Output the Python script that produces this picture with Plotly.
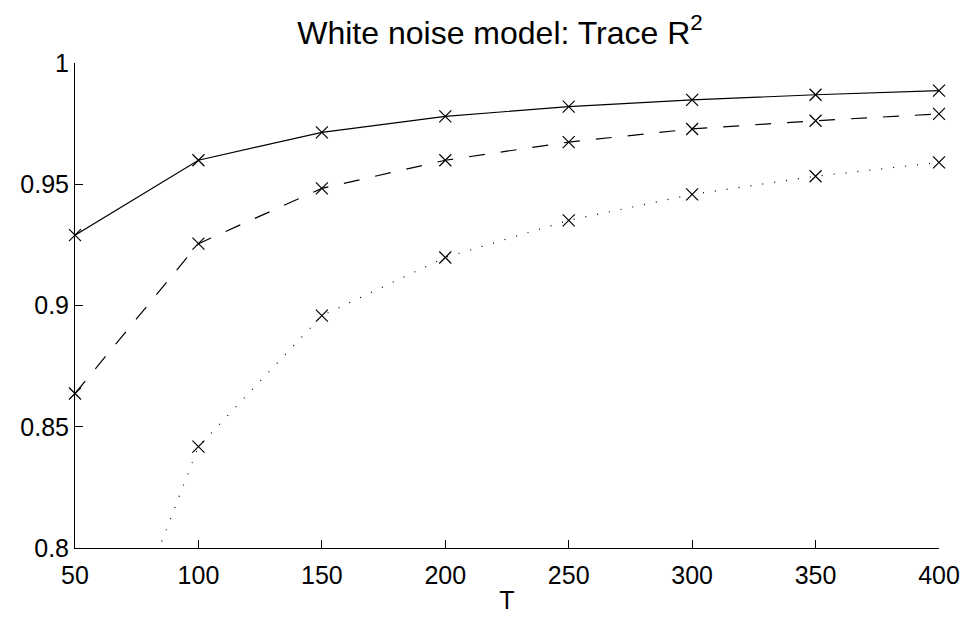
import plotly.graph_objects as go

T = [50, 100, 150, 200, 250, 300, 350, 400]
solid_vals = [0.929, 0.9599, 0.9714, 0.978, 0.982, 0.9848, 0.9869, 0.9886]
dashed_vals = [0.8637, 0.9255, 0.9483, 0.9599, 0.9674, 0.9728, 0.9762, 0.979]
dotted_vals = [0.7104, 0.8418, 0.8958, 0.9198, 0.9351, 0.9458, 0.9533, 0.959]
y_ticks = [0.8, 0.85, 0.9, 0.95, 1]
y_ticklabels = ["0.8", "0.85", "0.9", "0.95", "1"]
x_ticks = [50, 100, 150, 200, 250, 300, 350, 400]

Y_MIN, Y_MAX = 0.8, 1.0

series = [
    (solid_vals, "solid"),
    (dashed_vals, "16px,16px"),
    (dotted_vals, "1px,11px"),
]

fig = go.Figure()
for vals, dash in series:
    fig.add_trace(go.Scatter(
        x=T, y=vals, mode="lines",
        line=dict(color="black", width=1.2, dash=dash),
        showlegend=False, hoverinfo="skip",
    ))
    # markers only for points within the visible range (line itself is clipped)
    mx = [t for t, v in zip(T, vals) if Y_MIN <= v <= Y_MAX]
    my = [v for v in vals if Y_MIN <= v <= Y_MAX]
    fig.add_trace(go.Scatter(
        x=mx, y=my, mode="markers", cliponaxis=False,
        marker=dict(symbol="x-thin", size=12, color="black",
                    line=dict(color="black", width=1.2)),
        showlegend=False,
    ))

font_family = "Liberation Sans, Arial, Helvetica, sans-serif"

# page body has an 8px default margin, so the figure is offset by 8px
fig.update_layout(
    width=964, height=614,
    margin=dict(l=64, r=32, t=55, b=64),
    paper_bgcolor="white", plot_bgcolor="white",
    font=dict(family=font_family, size=25, color="black"),
    title=dict(text="White noise model: Trace R<sup>2</sup>",
               x=(500 - 8) / 964, xanchor="center", y=0.978, yanchor="top",
               font=dict(family=font_family, size=32, color="black")),
    xaxis=dict(
        range=[50, 400], tickmode="array", tickvals=x_ticks,
        showline=True, linecolor="black", linewidth=1,
        ticks="inside", ticklen=8, tickcolor="black", tickwidth=1,
        showgrid=False, zeroline=False, mirror=False,
        tickfont=dict(size=25), ticklabelstandoff=5,
        title=dict(text="T", font=dict(size=25), standoff=3),
    ),
    yaxis=dict(
        range=[Y_MIN, Y_MAX], tickmode="array", tickvals=y_ticks,
        ticktext=y_ticklabels,
        showline=True, linecolor="black", linewidth=1,
        ticks="inside", ticklen=8, tickcolor="black", tickwidth=1,
        showgrid=False, zeroline=False, mirror=False,
        tickfont=dict(size=25),
    ),
)

fig.write_html("out.html")
